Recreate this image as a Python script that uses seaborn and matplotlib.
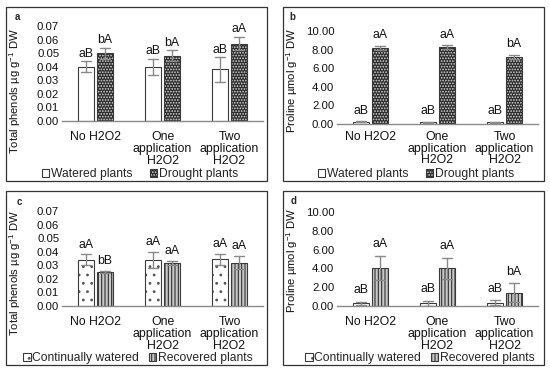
import numpy as np
import pandas as pd
import seaborn as sns
import matplotlib
matplotlib.use("Agg")
import matplotlib.pyplot as plt
from matplotlib.patches import Patch, Rectangle

sns.set_theme(style="white")
plt.rcParams['font.family'] = ['Liberation Sans', 'DejaVu Sans']
plt.rcParams['mathtext.fontset'] = 'custom'
plt.rcParams['mathtext.rm'] = 'Liberation Sans'
plt.rcParams['mathtext.it'] = 'Liberation Sans'
plt.rcParams['hatch.linewidth'] = 0.8

categories = ["No H2O2", "One\napplication\nH2O2", "Two\napplication\nH2O2"]

# Panel a: total phenols, watered vs drought
a_series = ["Watered plants", "Drought plants"]
a_watered = [0.040, 0.040, 0.038]
a_watered_err = [0.004, 0.006, 0.009]
a_drought = [0.050, 0.048, 0.057]
a_drought_err = [0.004, 0.004, 0.005]
a_labels_w = ["aB", "aB", "aB"]
a_labels_d = ["bA", "bA", "aA"]

# Panel b: proline, watered vs drought
b_series = ["Watered plants", "Drought plants"]
b_watered = [0.25, 0.20, 0.20]
b_watered_err = [0.05, 0.05, 0.05]
b_drought = [8.20, 8.25, 7.20]
b_drought_err = [0.20, 0.20, 0.25]
b_labels_w = ["aB", "aB", "aB"]
b_labels_d = ["aA", "aA", "bA"]

# Panel c: total phenols, continually watered vs recovered
c_series = ["Continually watered", "Recovered plants"]
c_watered = [0.034, 0.034, 0.0345]
c_watered_err = [0.004, 0.006, 0.004]
c_recovered = [0.025, 0.032, 0.032]
c_recovered_err = [0.001, 0.0015, 0.005]
c_labels_w = ["aA", "aA", "aA"]
c_labels_r = ["bB", "aA", "aA"]

# Panel d: proline, continually watered vs recovered
d_series = ["Continually watered", "Recovered plants"]
d_watered = [0.30, 0.30, 0.35]
d_watered_err = [0.15, 0.25, 0.25]
d_recovered = [4.05, 4.00, 1.40]
d_recovered_err = [1.30, 1.15, 1.00]
d_labels_w = ["aB", "aB", "aB"]
d_labels_r = ["aA", "aA", "bA"]

W, H = 550, 370
fig = plt.figure(figsize=(5.5, 3.7), dpi=100)


def fx(px):
    return px / W


def fy(py):
    return 1 - py / H


def long_df(series, v1, e1, v2, e2):
    rows = []
    for s, vals, errs in ((series[0], v1, e1), (series[1], v2, e2)):
        for c, v, e in zip(categories, vals, errs):
            rows.append({"cat": c, "series": s, "val": v - e})
            rows.append({"cat": c, "series": s, "val": v + e})
    return pd.DataFrame(rows)


styles = {
    "plain": dict(face="white", hatch=None, hcol="black"),
    "darkdots": dict(face="#2e2e2e", hatch="......", hcol="#d8d8d8"),
    "sparsedots": dict(face="white", hatch="..", hcol="#555555"),
    "stripes": dict(face="#c8c8c8", hatch="|||||", hcol="#303030"),
}


def panel(box, axrect, series, v1, e1, v2, e2, l1, l2, ymax, step,
          letter, letter_xy, ylabel, ylab_xy, leg_xy, colsp, xpad, st1, st2, pad):
    # panel border
    fig.patches.append(Rectangle((fx(box[0]), fy(box[3])),
                                 fx(box[2] - box[0]), (box[3] - box[1]) / H,
                                 transform=fig.transFigure, fill=False,
                                 edgecolor="#333333", linewidth=0.9))
    ax = fig.add_axes(axrect)
    df = long_df(series, v1, e1, v2, e2)
    sns.barplot(data=df, x="cat", y="val", hue="series", ax=ax,
                order=categories, hue_order=series,
                errorbar=lambda x: (x.min(), x.max()),
                width=0.57, gap=0.2, capsize=0.3,
                err_kws={"color": "#8a8a8a", "linewidth": 1.0},
                legend=False)
    for cont, stname, labs, vals, errs in ((ax.containers[0], st1, l1, v1, e1),
                                           (ax.containers[1], st2, l2, v2, e2)):
        st = styles[stname]
        for p, lab, v, e in zip(cont.patches, labs, vals, errs):
            p.set_facecolor(st["face"])
            p.set_edgecolor("#3a3a3a")
            p.set_linewidth(0.8)
            if st["hatch"]:
                p.set_hatch(st["hatch"])
                p._hatch_color = matplotlib.colors.to_rgba(st["hcol"])
            ax.text(p.get_x() + p.get_width() / 2, v + e + pad, lab,
                    ha="center", va="bottom", fontsize=8.8, color="#111111")
    ax.set_ylim(0, ymax)
    ax.set_yticks(np.arange(0, ymax + step / 2, step))
    ax.yaxis.set_major_formatter(matplotlib.ticker.FormatStrFormatter("%.2f"))
    ax.set_xlim(-0.5, 2.5)
    ax.set_xlabel("")
    ax.set_ylabel("")
    for s in ("top", "right", "left"):
        ax.spines[s].set_visible(False)
    ax.spines["bottom"].set_color("#8a8a8a")
    ax.spines["bottom"].set_linewidth(1.0)
    ax.tick_params(axis="y", labelsize=8.2, pad=2, length=0, colors="#111111")
    ax.tick_params(axis="x", labelsize=8.8, pad=xpad, length=0, colors="#111111")
    for t in ax.get_xticklabels():
        t.set_linespacing(0.95)
    ax.set_facecolor("none")
    fig.text(fx(letter_xy[0]), fy(letter_xy[1]), letter, fontsize=7,
             fontweight="bold", ha="center", va="center")
    fig.text(fx(ylab_xy[0]), fy(ylab_xy[1]), ylabel, rotation=90,
             fontsize=8.1, ha="center", va="center", color="#111111")
    handles = []
    for s, stname in zip(series, (st1, st2)):
        st = styles[stname]
        h = Patch(facecolor=st["face"], edgecolor="#3a3a3a", linewidth=0.8,
                  hatch=st["hatch"], label=s)
        h._hatch_color = matplotlib.colors.to_rgba(st["hcol"])
        handles.append(h)
    fig.legend(handles=handles, loc="center", bbox_to_anchor=(fx(leg_xy[0]), fy(leg_xy[1])),
               ncol=2, frameon=False, fontsize=8.7, handlelength=0.6,
               handleheight=0.6, handletextpad=0.15, columnspacing=colsp,
               borderpad=0, borderaxespad=0)
    return ax


aw = 201 / W
panel((6, 7, 267, 181), [fx(62), fy(121), aw, 95 / H], a_series,
      a_watered, a_watered_err, a_drought, a_drought_err, a_labels_w, a_labels_d,
      0.07, 0.01, "a", (17, 17), "Total phenols µg g$^{-1}$ DW", (15, 91), (140, 174.5), 1.45, 7.5,
      "plain", "darkdots", 0.0012)
panel((283, 7, 544, 181), [fx(337), fy(124), aw, 93 / H], b_series,
      b_watered, b_watered_err, b_drought, b_drought_err, b_labels_w, b_labels_d,
      10.0, 2.0, "b", (292, 17), "Proline µmol g$^{-1}$ DW", (292, 80), (416, 174.5), 1.45, 5.3,
      "plain", "darkdots", 0.5)
panel((6, 191, 267, 365), [fx(62), fy(306), aw, 95 / H], c_series,
      c_watered, c_watered_err, c_recovered, c_recovered_err, c_labels_w, c_labels_r,
      0.07, 0.01, "c", (19, 202), "Total phenols µg g$^{-1}$ DW", (15, 273), (138, 358.5), 0.8, 7.5,
      "sparsedots", "stripes", 0.0025)
panel((283, 191, 544, 365), [fx(337), fy(306), aw, 94 / H], d_series,
      d_watered, d_watered_err, d_recovered, d_recovered_err, d_labels_w, d_labels_r,
      10.0, 2.0, "d", (294, 201), "Proline µmol g$^{-1}$ DW", (292, 260), (420, 358.5), 0.8, 7.5,
      "sparsedots", "stripes", 0.6)

fig.savefig("out.png", dpi=100)
